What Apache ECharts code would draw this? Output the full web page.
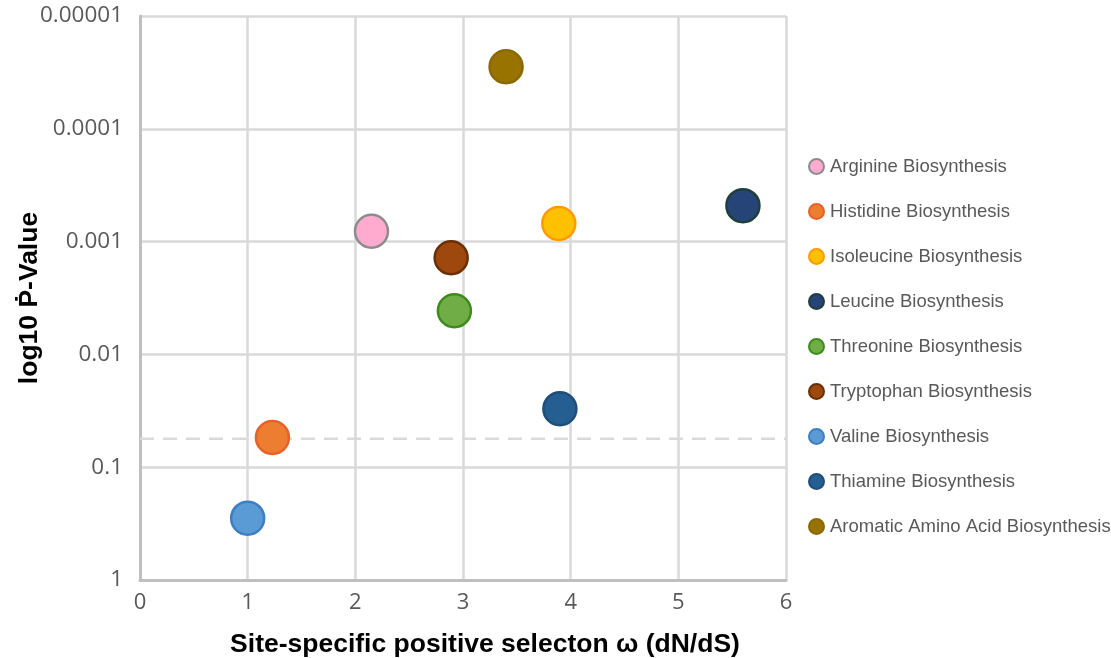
<!DOCTYPE html>
<html>
<head>
<meta charset="utf-8">
<script src="https://cdn.jsdelivr.net/npm/echarts@6/dist/echarts.min.js"></script>
<style>
html,body{margin:0;padding:0;background:#fff;}
#chart{width:1111px;height:658px;}
</style>
</head>
<body>
<div id="chart"></div>
<script>
// ---- data ----
const seriesNames = [
  'Arginine Biosynthesis',
  'Histidine Biosynthesis',
  'Isoleucine Biosynthesis',
  'Leucine Biosynthesis',
  'Threonine Biosynthesis',
  'Tryptophan Biosynthesis',
  'Valine Biosynthesis',
  'Thiamine Biosynthesis',
  'Aromatic Amino Acid Biosynthesis'
];
const omegaValues = [2.15, 1.23, 3.89, 5.60, 2.92, 2.89, 1.00, 3.90, 3.40];
const pValues = [0.00081, 0.0545, 0.00069, 0.00048, 0.0041, 0.00139, 0.283, 0.0303, 0.0000282];
const fillColors = ['#FFABCF', '#ED7D31', '#FFC000', '#264478', '#70AD47', '#9E480E', '#5B9BD5', '#255E91', '#997300'];
const borderColors = ['#8C8C8C', '#E8602A', '#FF9A00', '#1F3F3A', '#3E8A1E', '#6B2E05', '#3E7FC0', '#1F4E79', '#8C6900'];
const thresholdP = 0.056;
const xTicks = [0, 1, 2, 3, 4, 5, 6];
const yTickLabels = ['1', '0.1', '0.01', '0.001', '0.0001', '0.00001'];

const chart = echarts.init(document.getElementById('chart'));

const series = [{
  name: 'threshold',
  type: 'line',
  data: [[xTicks[0], thresholdP], [xTicks[xTicks.length - 1], thresholdP]],
  symbol: 'none',
  silent: true,
  lineStyle: { color: '#D9D9D9', width: 2.5, type: [14, 9] },
  z: 2
}];

seriesNames.forEach((name, i) => series.push({
  name: name,
  type: 'scatter',
  symbol: 'circle',
  symbolSize: 33,
  data: [[omegaValues[i], pValues[i]]],
  itemStyle: { color: fillColors[i], borderColor: borderColors[i], borderWidth: 2.5, opacity: 1 },
  emphasis: { disabled: true },
  z: 5
}));

chart.setOption({
  animation: false,
  backgroundColor: '#fff',
  grid: { left: 140, top: 16, right: 325, bottom: 78, containLabel: false, outerBoundsMode: 'none' },
  legend: {
    data: seriesNames,
    orient: 'vertical',
    left: 808,
    top: 156,
    padding: 0,
    icon: 'circle',
    itemWidth: 15,
    itemHeight: 15,
    itemGap: 24,
    textStyle: { fontFamily: 'Liberation Sans, Arial, sans-serif', fontSize: 18.5, lineHeight: 21, color: '#595959', padding: [0, 0, 0, 1] }
  },
  xAxis: {
    type: 'value',
    min: xTicks[0],
    max: xTicks[xTicks.length - 1],
    interval: 1,
    name: 'Site-specific positive selecton ω (dN/dS)',
    nameLocation: 'middle',
    nameGap: 51,
    nameMoveOverlap: false,
    nameTextStyle: { fontFamily: 'Liberation Sans, Arial, sans-serif', fontWeight: 'bold', fontSize: 26.5, color: '#000', padding: [0, 0, 0, 44] },
    axisLine: { show: true, onZero: false, lineStyle: { color: '#BFBFBF', width: 3 } },
    axisTick: { show: false },
    axisLabel: { fontFamily: 'Open Sans, sans-serif', fontSize: 22, color: '#595959', margin: 12 },
    splitLine: { show: true, lineStyle: { color: '#D9D9D9', width: 2.5 } }
  },
  yAxis: {
    type: 'log',
    logBase: 10,
    inverse: true,
    min: 0.00001,
    max: 1,
    name: 'log10 Ṗ-Value',
    nameLocation: 'middle',
    nameGap: 97,
    nameMoveOverlap: false,
    nameRotate: 90,
    nameTextStyle: { fontFamily: 'Liberation Sans, Arial, sans-serif', fontWeight: 'bold', fontSize: 26.5, color: '#000' },
    axisLine: { show: true, onZero: false, lineStyle: { color: '#BFBFBF', width: 3 } },
    axisTick: { show: false },
    axisLabel: {
      fontFamily: 'Open Sans, sans-serif', fontSize: 22.5, color: '#595959', margin: 17,
      formatter: function (v) {
        const k = Math.round(-Math.log10(v));
        return yTickLabels[k] !== undefined ? yTickLabels[k] : '';
      }
    },
    splitLine: { show: true, lineStyle: { color: '#D9D9D9', width: 2.5 } }
  },
  series: series
});
</script>
</body>
</html>
